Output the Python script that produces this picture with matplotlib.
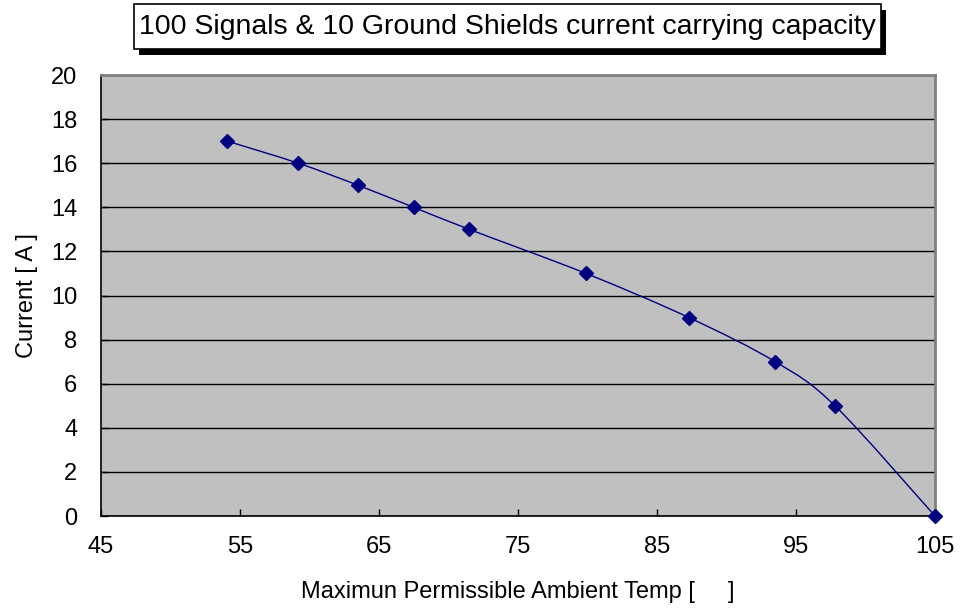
import matplotlib
matplotlib.use("Agg")
import matplotlib.pyplot as plt
import matplotlib.patches as mpatches
from matplotlib.path import Path
import numpy as np

# values
temp_c = [54.1, 59.2, 63.5, 67.5, 71.5, 79.9, 87.3, 93.5, 97.8, 105.0]
current_a = [17, 16, 15, 14, 13, 11, 9, 7, 5, 0]
x_ticks = [45, 55, 65, 75, 85, 95, 105]
y_ticks = [0, 2, 4, 6, 8, 10, 12, 14, 16, 18, 20]

title = "100 Signals & 10 Ground Shields current carrying capacity"
x_label = "Maximun Permissible Ambient Temp [     ]"
y_label = "Current [ A ]"

line_color = "#000080"

plt.rcParams['font.family'] = ['Liberation Sans', 'DejaVu Sans']


def smooth_path(xs, ys):
    # excel-style smoothed line: cubic bezier between neighbouring points
    pts = np.column_stack([xs, ys])
    n = len(pts)
    verts = [pts[0]]
    codes = [Path.MOVETO]
    for i in range(n - 1):
        p0 = pts[i - 1] if i > 0 else pts[i]
        p1 = pts[i]
        p2 = pts[i + 1]
        p3 = pts[i + 2] if i + 2 < n else pts[i + 1]
        c1 = p1 + (p2 - p0) / 6.0
        c2 = p2 - (p3 - p1) / 6.0
        verts += [c1, c2, p2]
        codes += [Path.CURVE4] * 3
    return Path(verts, codes)


fig = plt.figure(figsize=(9.61, 6.10), dpi=100)
ax = fig.add_axes([0.105, 0.154, 0.868, 0.723])
ax.set_facecolor("#C0C0C0")

ax.add_patch(mpatches.PathPatch(smooth_path(temp_c, current_a), fill=False,
                                edgecolor=line_color, lw=1.0, zorder=3))
ax.plot(temp_c, current_a, linestyle="none", marker="D", markersize=7,
        color=line_color, zorder=4, clip_on=False)

ax.set_xlim(45, 105)
ax.set_ylim(0, 20)
ax.set_xticks(x_ticks)
ax.set_yticks(y_ticks)
ax.tick_params(direction="in", length=5, width=1, labelsize=17,
               colors="black")
ax.tick_params(axis="x", pad=14)
ax.tick_params(axis="y", pad=17)
ax.yaxis.grid(True, color="black", lw=1)
ax.set_axisbelow(True)

for side in ["top", "right"]:
    ax.spines[side].set_color("#808080")
    ax.spines[side].set_linewidth(2)
for side in ["left", "bottom"]:
    ax.spines[side].set_color("black")
    ax.spines[side].set_linewidth(1.2)

ax.set_xlabel(x_label, fontsize=17, labelpad=17)
ax.set_ylabel(y_label, fontsize=17, labelpad=9)

# title box with drop shadow
W, H = 961.0, 610.0
bx0, bx1, by0, by1 = 134, 881, 4, 49
shadow = mpatches.Rectangle((bx0 / W + 5 / W, 1 - (by1 + 6) / H),
                            (bx1 - bx0) / W, (by1 - by0) / H,
                            transform=fig.transFigure, facecolor="black",
                            edgecolor="none")
box = mpatches.Rectangle((bx0 / W, 1 - by1 / H), (bx1 - bx0) / W, (by1 - by0) / H,
                         transform=fig.transFigure, facecolor="white",
                         edgecolor="black", lw=1.2)
fig.patches.extend([shadow, box])
fig.text((bx0 + bx1) / 2 / W, 1 - (by0 + by1) / 2 / H, title, fontsize=20.5,
         ha="center", va="center")

fig.savefig("out.png", dpi=100)
